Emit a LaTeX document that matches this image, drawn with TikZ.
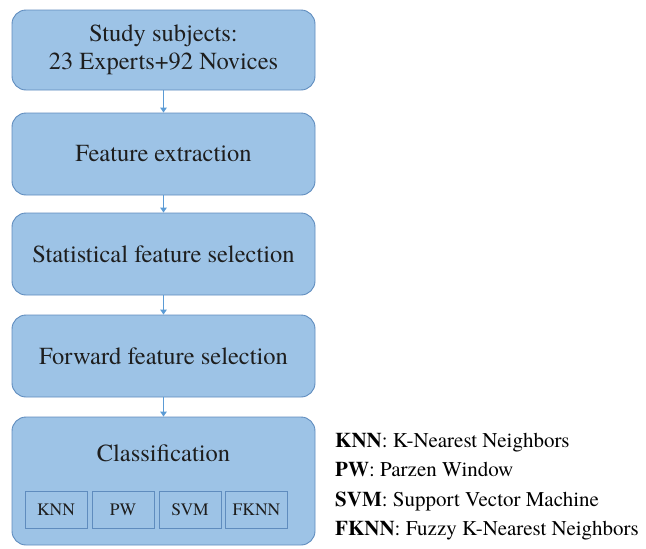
\documentclass[tikz,border=0pt]{standalone}
\usepackage{fontspec}
\setmainfont{texgyretermes}[Extension=.otf, UprightFont=*-regular, BoldFont=*-bold, ItalicFont=*-italic, BoldItalicFont=*-bolditalic]
\usetikzlibrary{arrows.meta}
\definecolor{boxfill}{RGB}{157,195,230}
\definecolor{boxline}{RGB}{95,140,190}
\definecolor{arrowc}{RGB}{91,155,213}
\definecolor{txt}{RGB}{30,30,30}
\tikzset{
  stage/.style={draw=boxline, line width=0.9pt, fill=boxfill, rounded corners=14pt, text=txt, font=\fontsize{24.5}{28}\selectfont, align=center},
  algo/.style={draw=boxline, line width=0.7pt, fill=boxfill, text=txt, font=\fontsize{17.5}{20}\selectfont, minimum width=62pt, minimum height=37pt, inner sep=0pt},
  flow/.style={draw=arrowc, line width=1.2pt, -{Triangle[length=5pt,width=6.5pt]}},
  legend/.style={anchor=base west, text=black, font=\fontsize{21}{24}\selectfont, inner sep=0pt}
}
\begin{document}
\begin{tikzpicture}[x=1pt,y=-1pt]
\useasboundingbox (0,0) rectangle (646,549);
\node[stage, minimum width=303pt, minimum height=80pt] (s1) at (163.5,50) {Study subjects:\\23 Experts+92 Novices};
\node[stage, minimum width=303pt, minimum height=82pt] (s2) at (163.5,154) {Feature extraction};
\node[stage, minimum width=303pt, minimum height=82pt] (s3) at (163.5,254) {Statistical feature selection};
\node[stage, minimum width=303pt, minimum height=82pt] (s4) at (163.5,356) {Forward feature selection};
\node[stage, minimum width=303pt, minimum height=128pt] (s5) at (163.5,481) {};
\node[text=txt, font=\fontsize{24.5}{28}\selectfont] (ct) at (163.5,453) {Classification};
\node[algo] (k) at (56,509.5) {KNN};
\node[algo] (p) at (123,509.5) {PW};
\node[algo] (v) at (190,509.5) {SVM};
\node[algo] (f) at (256.5,509.5) {FKNN};
\draw[flow] (s1.south) -- (s2.north);
\draw[flow] (s2.south) -- (s3.north);
\draw[flow] (s3.south) -- (s4.north);
\draw[flow] (s4.south) -- (s5.north);
\node[legend] (l1) at (335,447) {\textbf{KNN}: K-Nearest Neighbors};
\node[legend] (l2) at (335,476.5) {\textbf{PW}: Parzen Window};
\node[legend] (l3) at (335,506) {\textbf{SVM}: Support Vector Machine};
\node[legend] (l4) at (335,535) {\textbf{FKNN}: Fuzzy K-Nearest Neighbors};
\end{tikzpicture}
\end{document}
